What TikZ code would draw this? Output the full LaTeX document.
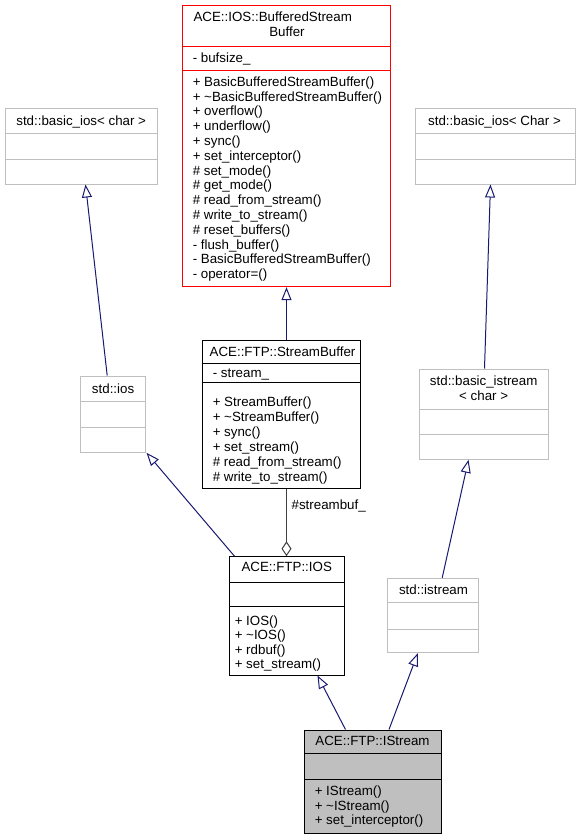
\documentclass[tikz,border=0pt]{standalone}
\usepackage{fontspec}
\setmainfont{Liberation Sans}
\usetikzlibrary{arrows.meta,calc,fit}
\definecolor{edgeblue}{RGB}{25,25,112}
\definecolor{boxgray}{RGB}{191,191,191}
\definecolor{compgray}{RGB}{64,64,64}
\begin{document}
\begin{tikzpicture}[x=0.75pt,y=-0.75pt,
  cls/.style={draw, inner sep=0pt, line width=0.75pt},
  stdcls/.style={cls, draw=boxgray},
  redcls/.style={cls, draw=red},
  maincls/.style={cls, draw=black, fill=boxgray},
  plaincls/.style={cls, draw=black},
  sepline/.style={line width=0.75pt},
  txt/.style={font=\fontsize{10}{12}\selectfont, inner sep=0pt, anchor=base west},
  ctxt/.style={font=\fontsize{10}{12}\selectfont, inner sep=0pt, anchor=base},
  inh/.style={draw=edgeblue, line width=0.75pt, -{Triangle[open, length=9.75pt, width=7.5pt]}},
  comp/.style={draw=compgray, line width=0.75pt, -{Diamond[open, length=11.25pt, width=7.5pt]}}]
\useasboundingbox (0,0) rectangle (576,840);

% ---- ACE::IOS::BufferedStreamBuffer
\node[redcls, fit={(182.7,5.3) (390.7,286.7)}] (bsb) {};
\draw[sepline, red] (182.7,46) -- (390.7,46);
\draw[sepline, red] (182.7,70.7) -- (390.7,70.7);
\node[txt] (bsb-t1) at (193.3,21.8) {ACE::IOS::BufferedStream};
\node[ctxt] (bsb-t2) at (287,36.8) {Buffer};
\node[txt] (bsb-a1) at (192.5,62.2) {- bufsize\_};
\foreach \t [count=\i] in {{+ BasicBufferedStreamBuffer()},{+ \textasciitilde BasicBufferedStreamBuffer()},{+ overflow()},{+ underflow()},{+ sync()},{+ set\_interceptor()},{\# set\_mode()},{\# get\_mode()},{\# read\_from\_stream()},{\# write\_to\_stream()},{\# reset\_buffers()},{- flush\_buffer()},{- BasicBufferedStreamBuffer()},{- operator=()}}
  \node[txt] (bsb-m\i) at (192.5,{86.2+14.8*(\i-1)}) {\t};

% ---- std::basic_ios< char >
\node[stdcls, fit={(5,108.3) (157.3,184)}] (bic) {};
\draw[sepline, boxgray] (5,133.3) -- (157.3,133.3);
\draw[sepline, boxgray] (5,159.3) -- (157.3,159.3);
\node[ctxt] (bic-t) at (81.2,125.5) {std::basic\_ios< char >};

% ---- std::basic_ios< Char >
\node[stdcls, fit={(415,108.3) (575.5,184)}] (biC) {};
\draw[sepline, boxgray] (415,133.3) -- (575.5,133.3);
\draw[sepline, boxgray] (415,159.3) -- (575.5,159.3);
\node[ctxt] (biC-t) at (494.5,125.5) {std::basic\_ios< Char >};

% ---- ACE::FTP::StreamBuffer
\node[plaincls, fit={(202.3,340) (360.7,488.5)}] (sb) {};
\draw[sepline] (202.3,363.3) -- (360.7,363.3);
\draw[sepline] (202.3,382.7) -- (360.7,382.7);
\node[ctxt] (sb-t) at (282.5,356.5) {ACE::FTP::StreamBuffer};
\node[txt] (sb-a1) at (212.5,377.8) {- stream\_};
\foreach \t [count=\i] in {{+ StreamBuffer()},{+ \textasciitilde StreamBuffer()},{+ sync()},{+ set\_stream()},{\# read\_from\_stream()},{\# write\_to\_stream()}}
  \node[txt] (sb-m\i) at (212.5,{406.2+15*(\i-1)}) {\t};

% ---- std::ios
\node[stdcls, fit={(80.7,376) (145.5,452.3)}] (ios) {};
\draw[sepline, boxgray] (80.7,401.7) -- (145.5,401.7);
\draw[sepline, boxgray] (80.7,427.3) -- (145.5,427.3);
\node[ctxt] (ios-t) at (113.1,393.5) {std::ios};

% ---- std::basic_istream< char >
\node[stdcls, fit={(419,369) (548.3,459.3)}] (bis) {};
\draw[sepline, boxgray] (419,409.3) -- (548.3,409.3);
\draw[sepline, boxgray] (419,434) -- (548.3,434);
\node[ctxt] (bis-t1) at (483.7,385.8) {std::basic\_istream};
\node[ctxt] (bis-t2) at (483.7,400.5) {< char >};

% ---- ACE::FTP::IOS
\node[plaincls, fit={(229.3,556.7) (344,675)}] (aios) {};
\draw[sepline] (229.3,582.3) -- (344,582.3);
\draw[sepline] (229.3,606.7) -- (344,606.7);
\node[ctxt] (aios-t) at (286.7,571.2) {ACE::FTP::IOS};
\foreach \t [count=\i] in {{+ IOS()},{+ \textasciitilde IOS()},{+ rdbuf()},{+ set\_stream()}}
  \node[txt] (aios-m\i) at (234.5,{625.2+14.5*(\i-1)}) {\t};

% ---- std::istream
\node[stdcls, fit={(387.3,578.3) (478.3,652.7)}] (ist) {};
\draw[sepline, boxgray] (387.3,602.7) -- (478.3,602.7);
\draw[sepline, boxgray] (387.3,629) -- (478.3,629);
\node[ctxt] (ist-t) at (433.5,594.5) {std::istream};

% ---- ACE::FTP::IStream
\node[maincls, fit={(304,730) (441.7,833.3)}] (ais) {};
\draw[sepline] (304,753.3) -- (441.7,753.3);
\draw[sepline] (304,779.3) -- (441.7,779.3);
\node[ctxt] (ais-t) at (372.5,745.2) {ACE::FTP::IStream};
\foreach \t [count=\i] in {{+ IStream()},{+ \textasciitilde IStream()},{+ set\_interceptor()}}
  \node[txt] (ais-m\i) at (314.5,{795.5+14.5*(\i-1)}) {\t};

% ---- connectors
\draw[inh] ($(ios.north west)+(27,0)$) -- ($(bic.south west)+(81,0)$);
\draw[inh] ($(bis.north west)+(66,0)$) -- ($(biC.south west)+(76,0)$);
\draw[inh] ($(sb.north west)+(84.7,0)$) -- ($(bsb.south west)+(104.3,0)$);
\draw[inh] ($(aios.north west)+(5.7,0)$) -- ($(ios.south east)+(0.5,0)$);
\draw[comp] ($(sb.south west)+(84.7,0)$) -- node[txt, anchor=base west, pos=0.31, xshift=3.5pt] (lbl) {\#streambuf\_} ($(aios.north west)+(57.7,0)$);
\draw[inh] ($(ist.north west)+(55.4,0)$) -- ($(bis.south west)+(50,0)$);
\draw[inh] ($(ais.north west)+(42,0)$) -- ($(aios.south west)+(88.7,0)$);
\draw[inh] ($(ais.north west)+(85.5,0)$) -- ($(ist.south west)+(31,0)$);
\end{tikzpicture}
\end{document}
